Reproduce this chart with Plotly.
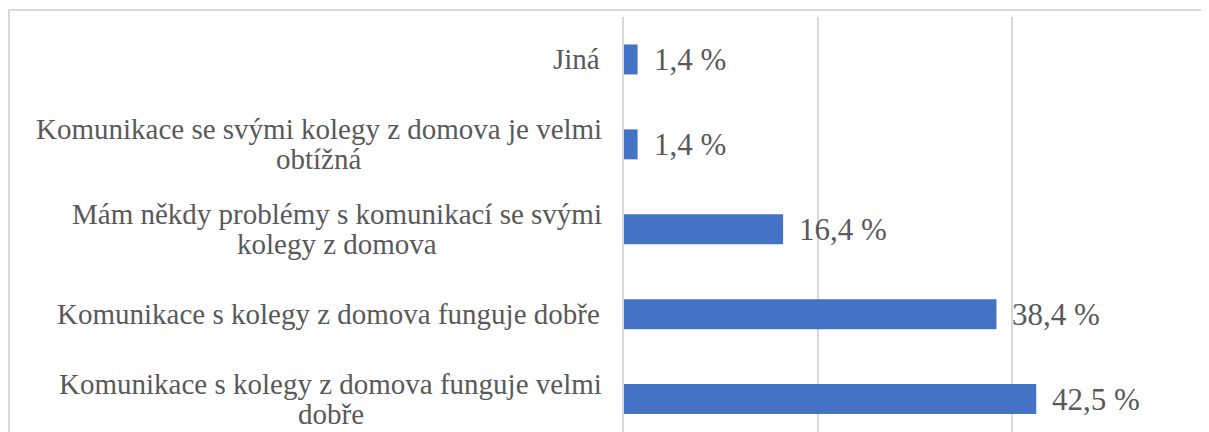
import plotly.graph_objects as go

# Data (bottom -> top)
categories = [
    "Komunikace s kolegy z domova funguje velmi<br>dobře",
    "Komunikace s kolegy z domova funguje dobře",
    "Mám někdy problémy s komunikací se svými<br>kolegy z domova",
    "Komunikace se svými kolegy z domova je velmi<br>obtížná",
    "Jiná",
]
values = [42.5, 38.4, 16.4, 1.4, 1.4]
x_ticks = [0, 20, 40, 60]

# The page body has an 8px default margin; the figure is sized to fit.
W, H = 1201, 424
ML, MR, MT, MB = 616, 3, 9, 0
pw = W - ML - MR
ph = H - MT - MB

TXT = "#595959"
GRID = "#D9D9D9"
FONT = "Liberation Serif"
LABEL_SIZE = 29
LINE_GAP = 30  # px between the two lines of a wrapped label
LABEL_PAD = 22

# Times / Liberation Serif advance widths (per 1000 em) for the label glyphs
_W = {" ": 250, "a": 444, "b": 500, "c": 444, "d": 500, "e": 444, "f": 333,
      "g": 500, "h": 500, "i": 278, "j": 278, "k": 500, "l": 278, "m": 778,
      "n": 500, "o": 500, "p": 500, "r": 333, "s": 389, "t": 278, "u": 500,
      "v": 500, "y": 500, "z": 444, "K": 722, "M": 889, "J": 389, "á": 444,
      "é": 444, "í": 278, "ý": 500, "ě": 444, "ř": 333, "ž": 444}


def text_width(s, size):
    return sum(_W.get(ch, 500) for ch in s) * size / 1000.0


fig = go.Figure(go.Bar(
    x=values, y=categories, orientation="h",
    marker=dict(color="#4472C4", line=dict(width=0)),
    width=0.353, hoverinfo="skip",
))

annotations = []
for c, v in zip(categories, values):
    lines = c.split("<br>")
    if len(lines) == 1:
        annotations.append(dict(
            x=0, xref="paper", y=c, yref="y", xanchor="right", yanchor="middle",
            xshift=-LABEL_PAD, text=c, showarrow=False,
            font=dict(family=FONT, size=LABEL_SIZE, color=TXT),
        ))
    else:
        w0 = max(text_width(s, LABEL_SIZE) for s in lines)
        cx = -LABEL_PAD - w0 / 2.0
        n = len(lines)
        for i, s in enumerate(lines):
            annotations.append(dict(
                x=0, xref="paper", y=c, yref="y", xanchor="center", yanchor="middle",
                xshift=cx, yshift=((n - 1) / 2.0 - i) * LINE_GAP, text=s,
                showarrow=False,
                font=dict(family=FONT, size=LABEL_SIZE, color=TXT),
            ))
    annotations.append(dict(
        x=v, xref="x", y=c, yref="y", xanchor="left", yanchor="middle",
        xshift=14, text=f"{v:.1f}".replace(".", ",") + " %", showarrow=False,
        font=dict(family=FONT, size=31, color=TXT),
    ))

fig.update_layout(
    width=W, height=H,
    margin=dict(l=ML, r=MR, t=MT, b=MB, pad=0),
    paper_bgcolor="white", plot_bgcolor="white",
    showlegend=False,
    annotations=annotations,
    xaxis=dict(range=[0, 60], tickvals=x_ticks, showticklabels=False,
               showgrid=True, gridcolor=GRID, gridwidth=2,
               zeroline=False, showline=False, fixedrange=True),
    yaxis=dict(type="category", categoryorder="array", categoryarray=categories,
               range=[-0.388, 4.5], showticklabels=False, showgrid=False,
               zeroline=False, showline=True, mirror=True, linecolor=GRID,
               linewidth=2, fixedrange=True),
    shapes=[dict(type="rect", xref="paper", yref="paper",
                 x0=(1 - ML) / pw, x1=(W + 10 - ML) / pw,
                 y0=-0.1, y1=1 + (MT - 2) / ph,
                 line=dict(color=GRID, width=2), fillcolor="rgba(0,0,0,0)",
                 layer="below")],
)

fig.write_html("out.html", config={"displayModeBar": False})
